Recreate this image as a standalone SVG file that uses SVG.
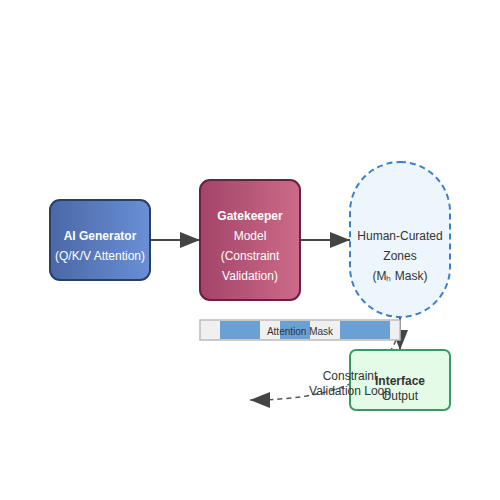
<svg xmlns="http://www.w3.org/2000/svg" width="500" height="500" viewBox="0 0 500 500">
<defs>
<linearGradient id="gBlue" x1="0" y1="0" x2="1" y2="0"><stop offset="0" stop-color="#4a68a6"/><stop offset="1" stop-color="#6a8fd6"/></linearGradient>
<linearGradient id="gRed" x1="0" y1="0" x2="1" y2="0"><stop offset="0" stop-color="#a34468"/><stop offset="1" stop-color="#cc6a88"/></linearGradient>
<marker id="arr" viewBox="0 0 10 10" refX="10" refY="5" markerWidth="20" markerHeight="20" markerUnits="userSpaceOnUse" orient="auto"><path d="M0,1 L10,5 L0,9 Z" fill="#444"/></marker>
</defs>
<style>
text{font-family:"Liberation Sans",Arial,sans-serif;font-size:12px;text-anchor:middle}
.w{fill:#fff}
.d{fill:#333}
.b{font-weight:bold}
.conn{stroke:#444;stroke-width:2;fill:none}
</style>
<rect width="500" height="500" fill="#fff"/>
<g id="connectors">
<line class="conn" x1="150" y1="240" x2="200" y2="240" marker-end="url(#arr)"/>
<line class="conn" x1="300" y1="240" x2="350" y2="240" marker-end="url(#arr)"/>
<line class="conn" x1="400" y1="280" x2="400" y2="350" marker-end="url(#arr)"/>
<path d="M396,340 Q372,400 250,400" stroke="#555" stroke-width="1.5" stroke-dasharray="5,4" fill="none" marker-end="url(#arr)"/>
</g>
<g id="ai-generator">
<rect x="50" y="200" width="100" height="80" rx="10" fill="url(#gBlue)" stroke="#2a3f66" stroke-width="2"/>
<text x="100" y="240" class="w b">AI Generator</text>
<text x="100" y="260" class="w">(Q/K/V Attention)</text>
</g>
<g id="gatekeeper">
<rect x="200" y="180" width="100" height="120" rx="10" fill="url(#gRed)" stroke="#6a2040" stroke-width="2"/>
<text x="250" y="220" class="w b">Gatekeeper</text>
<text x="250" y="240" class="w">Model</text>
<text x="250" y="260" class="w">(Constraint</text>
<text x="250" y="280" class="w">Validation)</text>
</g>
<g id="zones">
<rect x="350" y="162" width="100" height="155" rx="50" fill="#eef6fd" stroke="#3a80c8" stroke-width="2" stroke-dasharray="6,4"/>
<text x="400" y="240" class="d">Human-Curated</text>
<text x="400" y="260" class="d">Zones</text>
<text x="400" y="280" class="d">(Mₕ Mask)</text>
</g>
<g id="mask">
<rect x="200" y="320" width="200" height="20" fill="#f0f0f0" stroke="#bbb" stroke-width="1.5"/>
<rect x="220" y="321" width="40" height="18" fill="#6aa0d4"/>
<rect x="280" y="321" width="30" height="18" fill="#6aa0d4"/>
<rect x="340" y="321" width="50" height="18" fill="#6aa0d4"/>
<text x="300" y="335" class="d" style="font-size:10px">Attention Mask</text>
</g>
<g id="interface">
<rect x="350" y="350" width="100" height="60" rx="6" fill="#e4fbe8" stroke="#3a9a64" stroke-width="2"/>
<text x="400" y="385" class="d b">Interface</text>
<text x="400" y="400" class="d">Output</text>
</g>
<g id="loop-label">
<text x="350" y="380" class="d">Constraint</text>
<text x="350" y="395" class="d">Validation Loop</text>
</g>
</svg>
